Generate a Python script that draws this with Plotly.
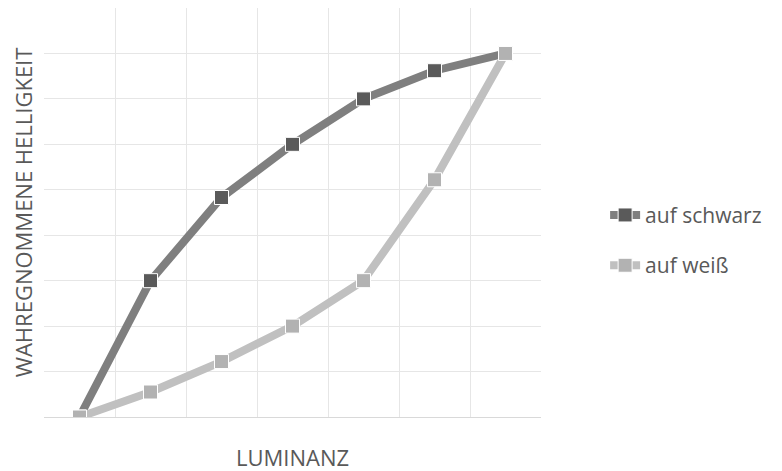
import plotly.graph_objects as go

categories = [0, 1, 2, 3, 4, 5, 6]
auf_schwarz = [0, 3, 4.83, 6, 7, 7.62, 8]
auf_weiss = [0, 0.55, 1.22, 2, 3, 5.22, 8]
series_names = ["auf schwarz", "auf weiß"]
x_title = "LUMINANZ"
y_title = "WAHREGNOMMENE HELLIGKEIT"

fig = go.Figure()
fig.add_trace(go.Scatter(
    x=categories, y=auf_schwarz, name=series_names[0], mode="lines+markers",
    line=dict(color="#7f7f7f", width=8),
    marker=dict(symbol="square", size=14, color="#5a5a5a", line=dict(color="white", width=1)),
    legendgroup="a",
))
fig.add_trace(go.Scatter(
    x=categories, y=auf_weiss, name=series_names[1], mode="lines+markers",
    line=dict(color="#c0c0c0", width=8),
    marker=dict(symbol="square", size=14, color="#b2b2b2", line=dict(color="white", width=1)),
    legendgroup="b",
))

fig.add_annotation(text=x_title, xref="paper", yref="paper", x=0.5, y=-0.097,
                   xanchor="center", yanchor="middle", showarrow=False,
                   font=dict(size=22, color="#595959"))

fig.update_layout(
    width=774, height=463,
    margin=dict(l=36, r=241, t=0, b=54),
    plot_bgcolor="white", paper_bgcolor="white",
    font=dict(family="Open Sans", color="#595959"),
    showlegend=True,
    legend=dict(x=1.129, y=0.432, yanchor="middle", xanchor="left",
                font=dict(size=21, color="#595959"), tracegroupgap=20,
                bgcolor="rgba(0,0,0,0)"),
    xaxis=dict(range=[-0.5, 6.5], tickvals=[-0.5 + i for i in range(8)],
               showticklabels=False, showgrid=True, gridcolor="#e6e6e6", gridwidth=1,
               zeroline=False, showline=True, linecolor="#d9d9d9", linewidth=1, ticks=""),
    yaxis=dict(range=[0, 9], tickvals=list(range(10)), showticklabels=False,
               showgrid=True, gridcolor="#e6e6e6", gridwidth=1, zeroline=False, ticks="",
               title=dict(text=y_title, font=dict(size=22, color="#595959"), standoff=5)),
)
fig.update_xaxes(automargin=False)
fig.update_yaxes(automargin=False)
fig.write_html("out.html")
